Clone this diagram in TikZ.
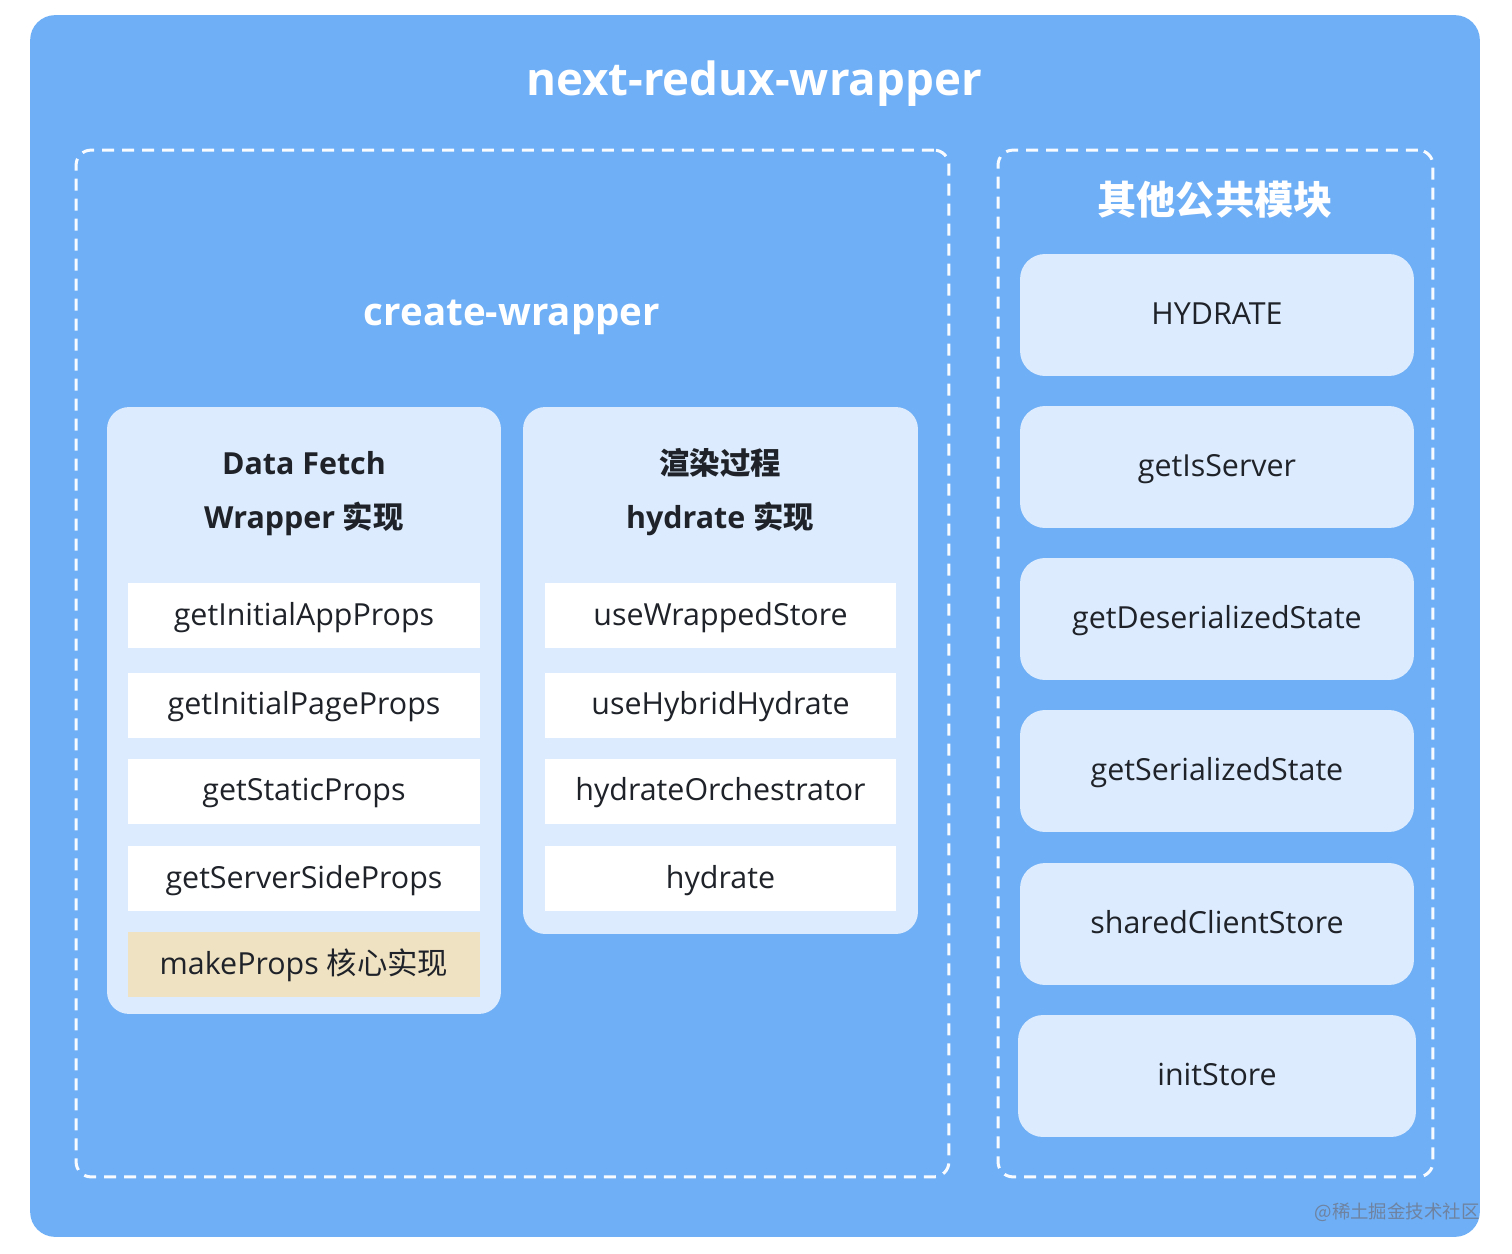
\documentclass[tikz,border=0pt]{standalone}
\usepackage{fontspec}
\setmainfont{Open Sans}
\newfontfamily\cjk{Noto Sans CJK SC}
\definecolor{mainblue}{HTML}{6EAFF6}
\definecolor{lightcard}{HTML}{DCEBFD}
\definecolor{beige}{HTML}{EFE2C3}
\definecolor{darktext}{HTML}{1F2329}
\definecolor{wm}{HTML}{6F83A0}
\begin{document}
\begin{tikzpicture}[x=0.02cm,y=-0.02cm,
  mainbox/.style={fill=mainblue, draw=none, rounded corners=0.5cm, minimum width=29cm, minimum height=24.44cm, inner sep=0pt},
  dashbox/.style={draw=white!95!mainblue, line width=0.06cm, dash pattern=on 0.24cm off 0.16cm, rounded corners=0.3cm, inner sep=0pt, minimum height=20.54cm},
  card/.style={fill=lightcard, draw=none, rounded corners=0.44cm, inner sep=0pt, minimum width=7.88cm},
  rowbox/.style={fill=white, draw=none, inner sep=0pt, minimum width=7.04cm, minimum height=1.3cm, text height=0.42cm, text depth=0.03cm, font=\fontsize{17.3}{18}\selectfont, text=darktext},
  rcard/.style={card, minimum height=2.44cm, rounded corners=0.5cm, text height=0.42cm, text depth=0.03cm, font=\fontsize{17.3}{18}\selectfont, text=darktext},
  head/.style={font=\bfseries\fontsize{17.3}{18}\selectfont, text=darktext, inner sep=0pt, anchor=base},
  wtitle/.style={font=\bfseries, text=white, inner sep=0pt}
]
\useasboundingbox (0,0) rectangle (1512,1254);
\node[mainbox] (main) at (755,626) {};
\node[wtitle, anchor=base, font=\bfseries\fontsize{26}{28}\selectfont] (title) at (754,95) {next-redux-wrapper};
\node[dashbox, minimum width=17.46cm] (left) at (512.5,663.5) {};
\node[dashbox, minimum width=8.7cm] (right) at (1215.5,663.5) {};
\node[wtitle, anchor=base, font=\bfseries\fontsize{21.9}{24}\selectfont] (cw) at (512,325) {create-wrapper};
\node[wtitle, font=\cjk\bfseries\fontsize{22.3}{24}\selectfont] (other) at (1215,200) {其他公共模块};
% left card
\node[card, minimum height=12.14cm] (dfcard) at (304,710.5) {};
\node[head] (df1) at (304,474) {Data Fetch};
\node[head] (df2) at (304,528) {Wrapper {\cjk 实现}};
\node[rowbox] (r1) at (304,615.5) {getInitialAppProps};
\node[rowbox] (r2) at (304,705) {getInitialPageProps};
\node[rowbox] (r3) at (304,791) {getStaticProps};
\node[rowbox] (r4) at (304,878.5) {getServerSideProps};
\node[rowbox, fill=beige] (r5) at (304,964.5) {makeProps {\cjk 核心实现}};
% middle card
\node[card, minimum width=7.9cm, minimum height=10.54cm] (hycard) at (720.5,670.5) {};
\node[head, font=\cjk\bfseries\fontsize{17.3}{18}\selectfont] (hy1) at (720,474) {渲染过程};
\node[head] (hy2) at (720,528) {hydrate {\cjk 实现}};
\node[rowbox] (m1) at (720.5,615.5) {useWrappedStore};
\node[rowbox] (m2) at (720.5,705) {useHybridHydrate};
\node[rowbox] (m3) at (720.5,791) {hydrateOrchestrator};
\node[rowbox] (m4) at (720.5,878.5) {hydrate};
% right cards
\node[rcard] (c1) at (1217,315) {HYDRATE};
\node[rcard] (c2) at (1217,467) {getIsServer};
\node[rcard] (c3) at (1217,619) {getDeserializedState};
\node[rcard] (c4) at (1217,771) {getSerializedState};
\node[rcard] (c5) at (1217,924) {sharedClientStore};
\node[rcard, minimum width=7.96cm] (c6) at (1217,1076) {initStore};
% watermark
\node[anchor=east, inner sep=0pt, text=wm, font=\cjk\fontsize{10.5}{12}\selectfont] (wmark) at (1480,1212) {@稀土掘金技术社区};
\end{tikzpicture}
\end{document}
